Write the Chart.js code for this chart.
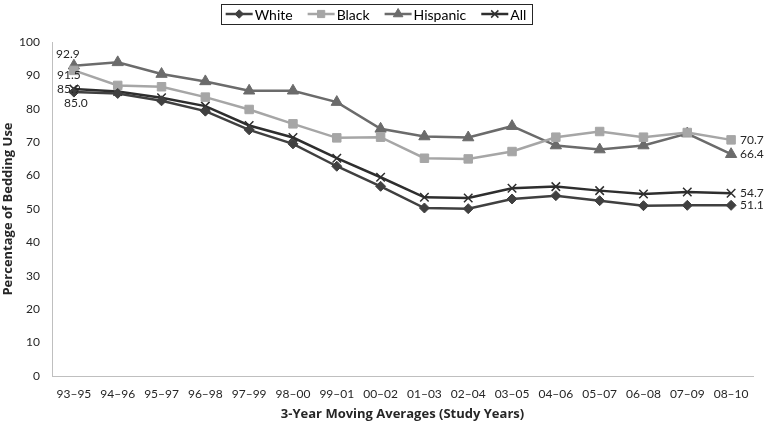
<!DOCTYPE html>
<html>
<head>
<meta charset="utf-8">
<script src="https://cdn.jsdelivr.net/npm/chart.js@4/dist/chart.umd.min.js"></script>
<style>
  html, body { margin: 0; padding: 0; background: #fff; }
  #wrap { width: 765px; height: 427px; }
</style>
</head>
<body>
<div id="wrap"><canvas id="myChart" width="765" height="427"></canvas></div>
<script>
// categories and series
const periods = ['93–95', '94–96', '95–97', '96–98', '97–99', '98–00', '99–01', '00–02',
  '01–03', '02–04', '03–05', '04–06', '05–07', '06–08', '07–09', '08–10'];
const white    = [85.0, 84.6, 82.4, 79.3, 73.7, 69.5, 62.8, 56.8, 50.3, 50.1, 53.0, 54.0, 52.5, 51.0, 51.1, 51.1];
const black    = [91.5, 87.0, 86.6, 83.5, 79.8, 75.5, 71.3, 71.5, 65.2, 65.0, 67.2, 71.5, 73.2, 71.5, 72.9, 70.7];
const hispanic = [92.9, 93.9, 90.4, 88.2, 85.4, 85.4, 82.0, 74.0, 71.7, 71.4, 74.8, 69.0, 67.8, 69.0, 72.6, 66.4];
const all      = [85.9, 85.2, 83.3, 80.8, 75.0, 71.4, 65.2, 59.5, 53.5, 53.3, 56.2, 56.7, 55.5, 54.5, 55.1, 54.7];
const yTicks = [0, 10, 20, 30, 40, 50, 60, 70, 80, 90, 100];

const FONT = 'Lato, "Open Sans", sans-serif';
const TITLE_FONT = '"Open Sans", Lato, sans-serif';

function series(label, data, color, style, radius, bw) {
  return {
    label: label,
    data: data,
    borderColor: color,
    backgroundColor: color,
    borderWidth: 2.5,
    pointStyle: style,
    pointRadius: radius,
    pointHoverRadius: radius,
    pointBorderWidth: bw,
    pointBackgroundColor: color,
    pointBorderColor: color,
    tension: 0,
    fill: false
  };
}

const datasets = [
  series('White', white, '#404040', 'rectRot', 5, 1),
  series('Black', black, '#a6a6a6', 'rect', 6, 1),
  series('Hispanic', hispanic, '#6b6b6b', 'triangle', 6.5, 1),
  series('All', all, '#2e2e2e', 'crossRot', 6, 1.5)
];

// first / last value labels: [dataset, index, dx, dy, align]
const valueLabels = [
  [2, 0, -6, -12, 'center'],
  [1, 0, -5, 5, 'center'],
  [3, 0, -5, 0, 'center'],
  [0, 0, 2, 11, 'center'],
  [1, 15, 9, 0, 'left'],
  [2, 15, 9, 0, 'left'],
  [3, 15, 9, 0, 'left'],
  [0, 15, 9, 0, 'left']
];

const extras = {
  id: 'extras',
  afterDatasetsDraw(chart) {
    const ctx = chart.ctx;
    ctx.save();
    ctx.font = '12px ' + FONT;
    ctx.fillStyle = '#262626';
    ctx.textBaseline = 'middle';
    valueLabels.forEach(([d, i, dx, dy, align]) => {
      const pt = chart.getDatasetMeta(d).data[i];
      ctx.textAlign = align;
      ctx.fillText(chart.data.datasets[d].data[i].toFixed(1), pt.x + dx, pt.y + dy);
    });

    // legend with line + marker samples and a frame
    ctx.font = '14px ' + FONT;
    ctx.textAlign = 'left';
    const lineLen = 27, gap = 2, spacing = 15, pad = 5;
    const widths = chart.data.datasets.map(ds => lineLen + gap + ctx.measureText(ds.label).width);
    const total = widths.reduce((a, b) => a + b, 0) + spacing * (widths.length - 1);
    const cx = 376, cy = 14;
    let x = cx - total / 2;
    ctx.strokeStyle = '#262626';
    ctx.lineWidth = 1;
    ctx.strokeRect(Math.round(x - pad) + 0.5, 4.5, Math.round(total + 2 * pad), 20);
    chart.data.datasets.forEach((ds, k) => {
      ctx.strokeStyle = ds.borderColor;
      ctx.lineWidth = 2.5;
      ctx.beginPath();
      ctx.moveTo(x, cy);
      ctx.lineTo(x + lineLen, cy);
      ctx.stroke();
      ctx.fillStyle = ds.pointBackgroundColor;
      ctx.lineWidth = ds.pointBorderWidth;
      Chart.helpers.drawPoint(ctx, {
        pointStyle: ds.pointStyle,
        radius: ds.pointRadius * 0.85,
        borderWidth: ds.pointBorderWidth,
        rotation: 0
      }, x + lineLen / 2, cy);
      ctx.fillStyle = '#000';
      ctx.fillText(ds.label, x + lineLen + gap, cy + 1);
      x += widths[k] + spacing;
    });
    ctx.restore();
  }
};

const ctx = document.getElementById('myChart').getContext('2d');
const myChart = new Chart(ctx, {
  type: 'line',
  data: { labels: periods, datasets: datasets },
  plugins: [extras],
  options: {
    responsive: false,
    animation: false,
    events: [],
    layout: { padding: { top: 42, right: 12, left: 0, bottom: 2 } },
    plugins: {
      legend: { display: false },
      tooltip: { enabled: false }
    },
    scales: {
      x: {
        type: 'category',
        offset: true,
        grid: { display: false, drawTicks: false },
        border: { display: true, color: '#bfbfbf', width: 1 },
        ticks: { color: '#262626', padding: 11, maxRotation: 0, autoSkip: false, font: { family: FONT, size: 12 } },
        title: { display: true, text: '3-Year Moving Averages (Study Years)', color: '#262626', padding: { top: 4, bottom: 3 },
          font: { family: TITLE_FONT, size: 13, weight: 'bold' } },
        afterFit(scale) { scale.height = 49; }
      },
      y: {
        min: 0,
        max: 100,
        afterBuildTicks(scale) { scale.ticks = yTicks.map(v => ({ value: v })); },
        grid: { display: false, drawTicks: false },
        border: { display: true, color: '#bfbfbf', width: 1 },
        ticks: { color: '#262626', padding: 12, font: { family: FONT, size: 12 } },
        title: { display: true, text: 'Percentage of Bedding Use', color: '#262626', padding: { top: 0, bottom: 0 },
          font: { family: TITLE_FONT, size: 13, weight: 'bold' } },
        afterFit(scale) { scale.width = 52; }
      }
    }
  }
});
</script>
</body>
</html>
